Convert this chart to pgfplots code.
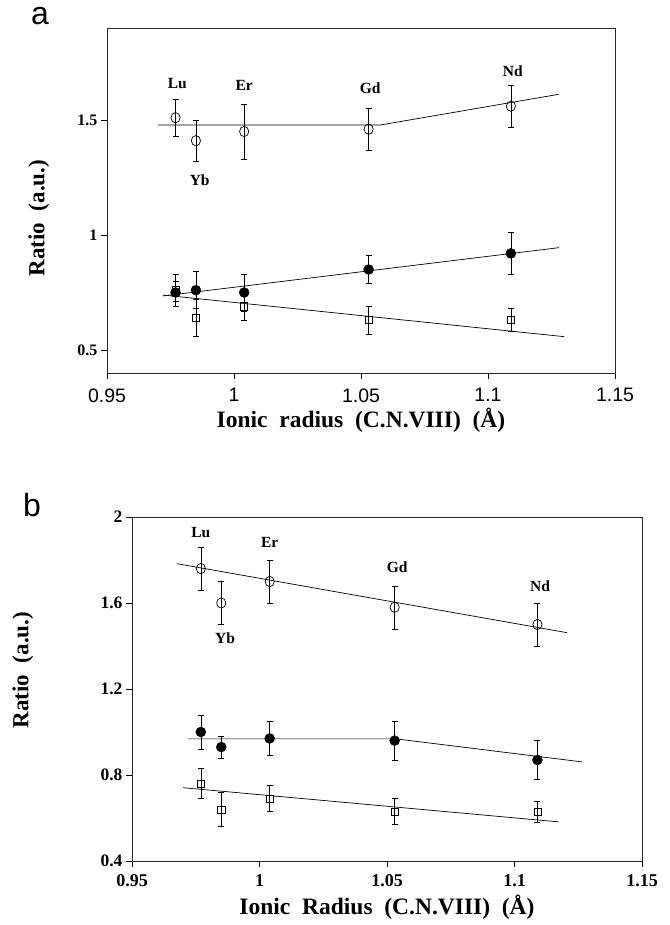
\documentclass[border=0pt]{standalone}
\usepackage{fontspec}
\setmainfont{Liberation Serif}
\setsansfont{Liberation Sans}
\usepackage{pgfplots}
\pgfplotsset{compat=1.18}

\newcommand{\elfont}{\bfseries\fontsize{15.5}{17}\selectfont}
\newcommand{\wsp}{\ \hspace{0.25em}}

\pgfplotsset{
  panel/.style={
    scale only axis, clip=false,
    xmin=0.95, xmax=1.15, xtick={0.95,1,1.05,1.1,1.15},
    tick align=outside, xtick pos=bottom, ytick pos=left,
    major tick length=6pt,
    axis line style={line width=0.8pt, black!85},
    tick style={line width=0.7pt, black},
    /pgf/number format/assume math mode=true,
    xlabel style={font=\bfseries\fontsize{23.5}{26}\selectfont},
    ylabel style={font=\bfseries\fontsize{23}{26}\selectfont},
  },
  fit/.style={black, line width=0.7pt, no marks},
  eb/.style={only marks, black,
    error bars/y dir=both, error bars/y explicit,
    error bars/error bar style={line width=0.6pt},
    error bars/error mark options={rotate=90, mark size=3pt, line width=0.6pt}},
}

\begin{document}
\begin{tikzpicture}
\useasboundingbox (0pt,0pt) rectangle (669pt,-925pt);

% panel labels
\node[font=\sffamily\fontsize{32}{34}\selectfont] at (40pt,-16pt) {a};
\node[font=\sffamily\fontsize{32}{34}\selectfont] at (32pt,-505pt) {b};

% ---------------- panel a
\begin{axis}[panel, at={(107pt,-28pt)}, anchor=north west,
  width=508pt, height=345pt,
  ymin=0.4, ymax=1.9, ytick={0.5,1,1.5},
  xticklabel style={font=\sffamily\fontsize{19.5}{22}\selectfont, yshift=-6pt},
  yticklabel style={font=\bfseries\fontsize{16}{18}\selectfont},
  xlabel={Ionic\wsp radius\wsp (C.N.VIII)\wsp (Å)},
  xlabel style={at={(axis description cs:0.5,0)}, anchor=center, yshift=-47pt},
  ylabel={Ratio\wsp (a.u.)},
  ylabel style={at={(axis description cs:-0.134,0.449)}, anchor=center},
]
% fit lines
\addplot[fit] coordinates {(0.970,1.478) (1.0575,1.478) (1.128,1.612)};
\addplot[fit] coordinates {(0.972,0.735) (1.128,0.945)};
\addplot[fit] coordinates {(0.972,0.739) (1.130,0.558)};
% open circles
\addplot[eb, mark=o, mark size=4.6pt, mark options={line width=0.7pt, yscale=1.12}] coordinates {
 (0.977,1.51) +- (0,0.08)
 (0.985,1.41) +- (0,0.09)
 (1.004,1.45) +- (0,0.12)
 (1.053,1.46) +- (0,0.09)
 (1.109,1.56) +- (0,0.09)
};
% filled circles
\addplot[eb, mark=*, mark size=5pt] coordinates {
 (0.977,0.75) += (0,0.08) -= (0,0.06)
 (0.985,0.76) +- (0,0.08)
 (1.004,0.75) +- (0,0.08)
 (1.053,0.85) +- (0,0.06)
 (1.109,0.92) +- (0,0.09)
};
% open squares
\addplot[eb, mark=square, mark size=3.6pt, mark options={line width=0.6pt}] coordinates {
 (0.977,0.76) += (0,0.04) -= (0,0.05)
 (0.985,0.64) +- (0,0.08)
 (1.004,0.69) +- (0,0.06)
 (1.053,0.63) +- (0,0.06)
 (1.109,0.63) +- (0,0.05)
};
\node[font=\elfont] at (axis cs:0.9777,1.66) {Lu};
\node[font=\elfont] at (axis cs:0.9865,1.24) {Yb};
\node[font=\elfont] at (axis cs:1.004,1.652) {Er};
\node[font=\elfont] at (axis cs:1.0536,1.638) {Gd};
\node[font=\elfont] at (axis cs:1.1098,1.714) {Nd};
\end{axis}

% ---------------- panel b
\begin{axis}[panel, at={(132pt,-517pt)}, anchor=north west,
  width=510pt, height=344pt,
  ymin=0.4, ymax=2, ytick={0.4,0.8,1.2,1.6,2},
  xticklabel style={font=\bfseries\fontsize{18}{20}\selectfont, yshift=-4pt},
  yticklabel style={font=\bfseries\fontsize{17.5}{20}\selectfont},
  yticklabel style={/pgf/number format/.cd, fixed, precision=1},
  xlabel={Ionic\wsp Radius\wsp (C.N.VIII)\wsp (Å)},
  xlabel style={at={(axis description cs:0.5,0)}, anchor=center, yshift=-46pt},
  ylabel={Ratio\wsp (a.u.)},
  ylabel style={at={(axis description cs:-0.214,0.555)}, anchor=center},
]
\addplot[fit] coordinates {(0.9676,1.783) (1.1206,1.462)};
\addplot[fit] coordinates {(0.972,0.968) (1.0536,0.968) (1.1265,0.861)};
\addplot[fit] coordinates {(0.970,0.741) (1.1173,0.582)};
\addplot[eb, mark=o, mark size=4.6pt, mark options={line width=0.7pt, yscale=1.12}] coordinates {
 (0.977,1.76) +- (0,0.10)
 (0.985,1.60) +- (0,0.10)
 (1.004,1.70) +- (0,0.10)
 (1.053,1.58) +- (0,0.10)
 (1.109,1.50) +- (0,0.10)
};
\addplot[eb, mark=*, mark size=5pt] coordinates {
 (0.977,1.00) +- (0,0.08)
 (0.985,0.93) +- (0,0.05)
 (1.004,0.97) +- (0,0.08)
 (1.053,0.96) +- (0,0.09)
 (1.109,0.87) +- (0,0.09)
};
\addplot[eb, mark=square, mark size=3.6pt, mark options={line width=0.6pt}] coordinates {
 (0.977,0.76) +- (0,0.07)
 (0.985,0.64) +- (0,0.08)
 (1.004,0.69) +- (0,0.06)
 (1.053,0.63) +- (0,0.06)
 (1.109,0.63) +- (0,0.05)
};
\node[font=\elfont] at (axis cs:0.977,1.926) {Lu};
\node[font=\elfont] at (axis cs:0.9865,1.434) {Yb};
\node[font=\elfont] at (axis cs:1.004,1.883) {Er};
\node[font=\elfont] at (axis cs:1.054,1.765) {Gd};
\node[font=\elfont] at (axis cs:1.110,1.68) {Nd};
\end{axis}
\end{tikzpicture}
\end{document}
